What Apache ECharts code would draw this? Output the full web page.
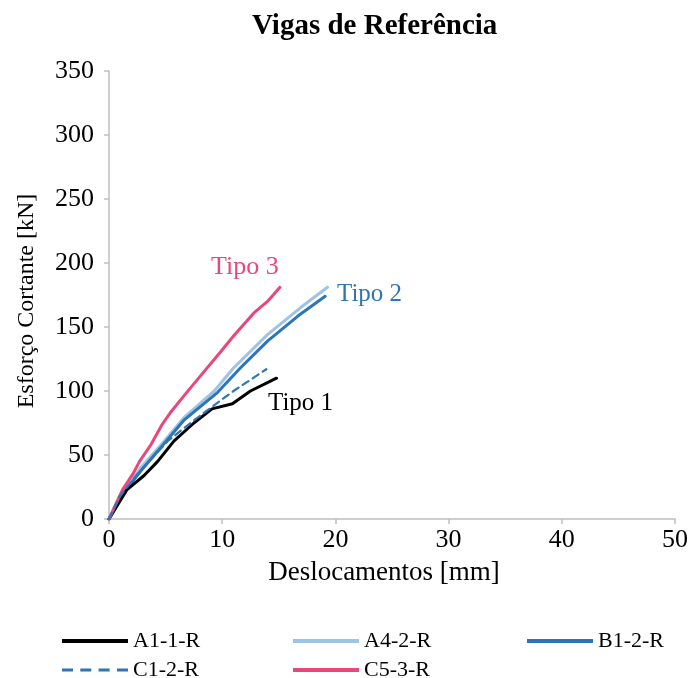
<!DOCTYPE html>
<html>
<head>
<meta charset="utf-8">
<script src="https://cdn.jsdelivr.net/npm/echarts@6/dist/echarts.min.js"></script>
<style>html,body{margin:0;padding:0;background:#fff}#c{width:694px;height:678px}</style>
</head>
<body>
<div id="c"></div>
<script>
const xTicks = [0, 10, 20, 30, 40, 50];
const yTicks = [0, 50, 100, 150, 200, 250, 300, 350];
const seriesNames = ['A1-1-R', 'A4-2-R', 'B1-2-R', 'C1-2-R', 'C5-3-R'];
const a11r = [[0,0],[0.8,11.5],[1.6,23],[3.1,34],[4.3,45],[5.75,61],[7.5,75],[9.1,86],[10.9,90],[12.5,100],[14.8,110]];
const a42r = [[0,0],[1.35,22],[2.8,40],[4.6,58],[6.6,79],[9.3,100],[11.0,118],[14.0,144],[16.9,165],[19.3,181]];
const b12r = [[0,0],[1.35,21],[2.8,37.5],[4.6,56],[6.6,77],[9.6,99],[11.6,118],[14.0,139],[16.9,160],[19.1,174]];
const c12r = [[0,0],[0.9,17],[2.5,35],[5.2,61],[7.2,75],[9.0,87],[11.0,100],[13.9,117]];
const c53r = [[0,0],[1.2,23],[2.1,35],[2.7,45],[3.7,58],[4.7,74],[5.5,84],[6.6,96],[8.1,112],[9.9,131],[11.0,143],[12.8,161],[14.0,170],[15.1,181]];
const typeLabels = ['Tipo 1', 'Tipo 2', 'Tipo 3'];

const serif = '"Liberation Serif", "Times New Roman", serif';
const colors = ['#000000', '#9DC3E6', '#2E75B6', '#2E75B6', '#E8477A'];
const dataSets = [a11r, a42r, b12r, c12r, c53r];

const chart = echarts.init(document.getElementById('c'), null, {renderer: 'canvas'});
const series = seriesNames.map((n, i) => ({
  name: n, type: 'line', data: dataSets[i], symbol: 'none', showSymbol: false, smooth: false,
  lineStyle: {color: colors[i], width: i === 3 ? 2.2 : 3, type: i === 3 ? [7, 5] : 'solid', cap: 'round', join: 'round'},
  itemStyle: {color: colors[i]},
  z: [3, 2, 2, 4, 3][i]
}));
const dashIcon = 'path://M0,0h11v3h-11z M18.3,0h11v3h-11z M36.6,0h11v3h-11z M55,0h11v3h-11z';
const legendPos = [[62, 630], [293, 630], [527, 630], [62, 659], [293, 659]];
const legends = seriesNames.map((n, i) => ({
  data: [n], left: legendPos[i][0], top: legendPos[i][1], padding: 0,
  icon: i === 3 ? dashIcon : 'rect',
  itemWidth: 66, itemHeight: i === 3 ? 3 : 4, itemGap: 0,
  textStyle: {fontFamily: serif, fontSize: 22, color: '#000'}
}));
chart.setOption({
  animation: false,
  title: {text: 'Vigas de Referência', left: 247, top: 7,
    textStyle: {fontFamily: serif, fontSize: 29, fontWeight: 'bold', color: '#000'}},
  grid: {left: 109, right: 19, top: 71, bottom: 159},
  xAxis: {type: 'value', min: 0, max: 50, interval: 10, name: 'Deslocamentos [mm]', nameLocation: 'middle', nameGap: 40,
    nameTextStyle: {fontFamily: serif, fontSize: 27, color: '#000', padding: [0, 16, 0, 0]},
    axisLine: {lineStyle: {color: '#BFBFBF', width: 1.5}}, axisTick: {show: true, length: 5, lineStyle: {color: '#BFBFBF', width: 1.5}},
    axisLabel: {fontFamily: serif, fontSize: 26, color: '#000', margin: 8}, splitLine: {show: false}},
  yAxis: {type: 'value', min: 0, max: 350, interval: 50, name: 'Esforço Cortante [kN]', nameLocation: 'middle', nameGap: 70,
    nameTextStyle: {fontFamily: serif, fontSize: 24, color: '#000', padding: [0, 12, 0, 0]},
    axisLine: {show: true, lineStyle: {color: '#BFBFBF', width: 1.5}}, axisTick: {show: true, length: 5, lineStyle: {color: '#BFBFBF', width: 1.5}},
    axisLabel: {fontFamily: serif, fontSize: 26, color: '#000', margin: 15}, splitLine: {show: false}},
  legend: legends,
  graphic: [
    {type: 'text', x: 268, y: 403, style: {text: typeLabels[0], font: '25px ' + serif, fill: '#000', textVerticalAlign: 'middle'}},
    {type: 'text', x: 337, y: 294, style: {text: typeLabels[1], font: '25px ' + serif, fill: '#2E75B6', textVerticalAlign: 'middle'}},
    {type: 'text', x: 211, y: 267, style: {text: typeLabels[2], font: '26px ' + serif, fill: '#E8477A', textVerticalAlign: 'middle'}}
  ],
  series: series
});
</script>
</body>
</html>
